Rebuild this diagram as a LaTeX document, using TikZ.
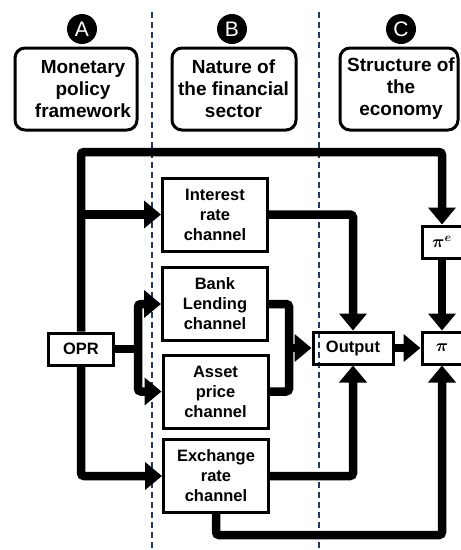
\documentclass[tikz,border=0pt]{standalone}
\usepackage{fontspec}
\setmainfont{Liberation Sans}
\usepackage{bm}
\usetikzlibrary{arrows.meta}
\begin{document}
\begin{tikzpicture}[x=1pt,y=-1pt,
  hdrbox/.style={draw, line width=3pt, rounded corners=10pt, minimum width=#1, minimum height=82pt, inner sep=0pt},
  hdrtext/.style={font=\fontsize{19}{22}\selectfont\bfseries, align=center, inner sep=0pt},
  letter/.style={circle, fill=black, minimum size=30pt, inner sep=0pt, text=white, font=\fontsize{21}{21}\selectfont},
  chbox/.style={draw, line width=3pt, minimum width=105pt, minimum height=73pt, inner sep=0pt, align=center, font=\fontsize{16.5}{20}\selectfont\bfseries},
  smbox/.style={draw, line width=3pt, minimum width=#1, minimum height=32pt, inner sep=0pt, font=\fontsize{16.5}{20}\selectfont\bfseries},
  conn/.style={line width=8.5pt, rounded corners=3pt},
  arr/.style={conn, -{Triangle[width=27pt,length=17pt]}},
  divider/.style={draw=divblue, line width=1.3pt, dash pattern=on 6pt off 4pt}
]
\definecolor{divblue}{RGB}{31,56,100}
\useasboundingbox (0,0) rectangle (461,550);

% dividers
\coordinate (d1t) at (152,12); \coordinate (d1b) at (152,550);
\coordinate (d2t) at (319,12); \coordinate (d2b) at (319,550);
\draw[divider] (d1t) -- (d1b);
\draw[divider] (d2t) -- (d2b);

% header
\node[letter] (la) at (82,29) {A};
\node[letter] (lb) at (232,29) {B};
\node[letter] (lc) at (401,29) {C};
\node[hdrbox=122pt] (ha) at (76,89) {};
\node[hdrbox=124pt] (hb) at (234,89) {};
\node[hdrbox=118pt] (hc) at (399,89) {};
\node[hdrtext] (ta) at (83,89) {Monetary\\policy\\framework};
\node[hdrtext] (tb) at (233.5,89) {Nature of\\the financial\\sector};
\node[hdrtext] (tc) at (401,89) {Structure of\\the\\economy};

% boxes
\node[chbox] (interest) at (215,214.5) {Interest\\rate\\channel};
\node[chbox] (bank) at (215,304) {Bank\\Lending\\channel};
\node[chbox] (asset) at (215.5,391.5) {Asset\\price\\channel};
\node[chbox] (exch) at (216,476) {Exchange\\rate\\channel};
\node[smbox=65pt] (opr) at (81,349) {OPR};
\node[smbox=80pt] (output) at (353,348) {Output};
\node[smbox=40pt, font=\fontsize{18}{20}\selectfont] (pi) at (442,348) {$\bm{\pi}$};
\node[smbox=40pt, font=\fontsize{18}{20}\selectfont] (pie) at (442,242) {$\bm{\pi^{e}}$};

% helper coordinates
\coordinate (top) at (0,152);
\coordinate (bot) at (0,535);
\coordinate (split) at (138,349);
\coordinate (merge) at (289,348);

% connectors
\draw[arr] (opr.north) |- (top -| pie.north) -- (pie.north);
\draw[arr] (opr.north |- interest.west) -- (interest.west);
\draw[arr] (interest.east) -| (output.north);
\draw[conn] (opr.east) -- (split);
\draw[arr] (split) |- (bank.west);
\draw[arr] (split) |- (asset.west);
\draw[conn] (bank.east) -| (merge);
\draw[conn] (asset.east) -| (merge);
\draw[arr] (merge) -- (output.west);
\draw[arr] (opr.south) |- (exch.west);
\draw[arr] (exch.east) -| (output.south);
\draw[arr] (exch.south) |- (bot -| pi.south) -- (pi.south);
\draw[arr] (output.east) -- (pi.west);
\draw[arr] (pie.south) -- (pi.north);
\end{tikzpicture}
\end{document}
